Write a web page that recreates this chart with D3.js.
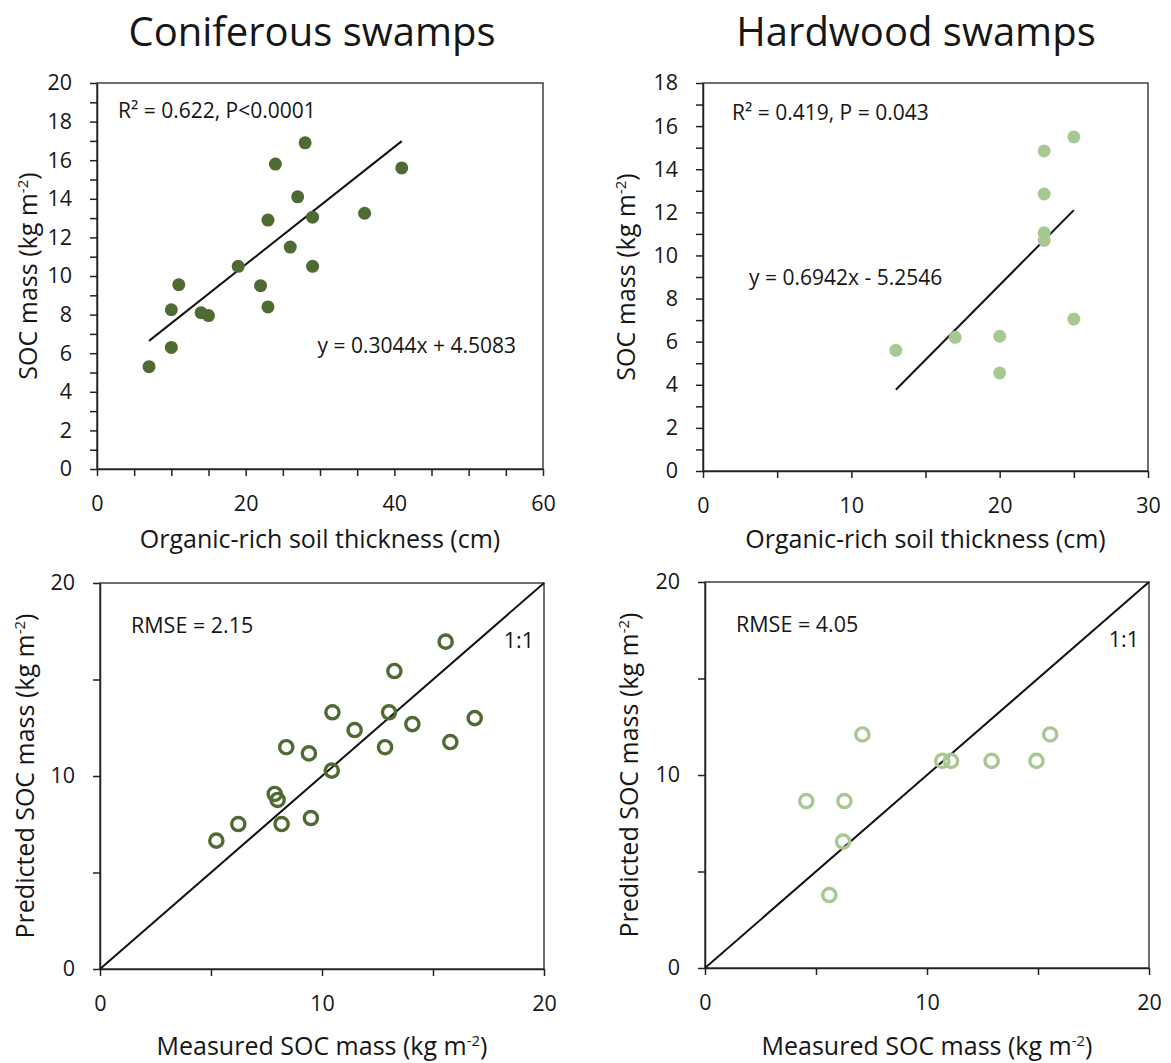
<!DOCTYPE html>
<html>
<head>
<meta charset="UTF-8">
<title>SOC mass in coniferous and hardwood swamps</title>
<script src="https://d3js.org/d3.v7.min.js"></script>
<style>
  body { margin: 0; background: #fff; }
  svg text { font-family: "Open Sans", sans-serif; fill: #161616; }
</style>
</head>
<body>
<div id="chart"></div>
<script>
// coniferous swamps: organic-rich soil thickness (cm) vs SOC mass (kg m-2)
const conThick = [7, 10, 10, 11, 14, 15, 19, 22, 23, 23, 24, 26, 27, 28, 29, 29, 36, 41];
const conSOC = [5.3, 6.3, 8.25, 9.55, 8.1, 7.95, 10.5, 9.5, 8.4, 12.9, 15.8, 11.5, 14.1, 16.9, 13.05, 10.5, 13.25, 15.6];
const conFit = { slope: 0.3044, intercept: 4.5083 };

// coniferous swamps: measured vs predicted SOC mass
const conMeasured = [5.24, 6.23, 7.87, 8.0, 8.18, 8.39, 9.41, 9.5, 10.44, 10.47, 11.47, 12.84, 13.02, 13.26, 14.07, 15.57, 15.78, 16.88];
const conPredicted = [6.65, 7.51, 9.07, 8.76, 7.51, 11.49, 11.17, 7.82, 10.28, 13.3, 12.38, 11.49, 13.3, 15.44, 12.69, 16.96, 11.76, 13.0];

// hardwood swamps
const hardThick = [13, 17, 20, 20, 23, 23, 23, 23, 25, 25];
const hardSOC = [5.6, 6.2, 6.25, 4.55, 14.85, 12.85, 11.05, 10.7, 15.5, 7.05];
const hardFit = { slope: 0.6942, intercept: -5.2546 };

const hardMeasured = [4.56, 5.6, 6.22, 6.28, 7.09, 10.69, 11.08, 12.91, 14.93, 15.55];
const hardPredicted = [8.65, 3.78, 6.55, 8.65, 12.1, 10.73, 10.73, 10.73, 10.73, 12.1];

const darkGreen = "#4e6b33";
const lightGreen = "#a8c893";

const svg = d3.select("#chart").append("svg")
  .attr("width", 1171)
  .attr("height", 1063);

function zip(a, b) { return a.map((v, i) => [v, b[i]]); }

function supLabel(sel, before, sup, after) {
  sel.append("tspan").text(before);
  sel.append("tspan").attr("dy", -9).attr("font-size", 15).text(sup);
  sel.append("tspan").attr("dy", 9).text(after);
}

function panel(p) {
  const x = d3.scaleLinear().domain(p.xDomain).range([p.left, p.right]);
  const y = d3.scaleLinear().domain(p.yDomain).range([p.bottom, p.top]);

  svg.append("rect")
    .attr("x", p.left).attr("y", p.top)
    .attr("width", p.right - p.left).attr("height", p.bottom - p.top)
    .attr("fill", "none").attr("stroke", "#333").attr("stroke-width", 1.4);

  const xAxis = d3.axisBottom(x)
    .tickValues(d3.range(p.xDomain[0], p.xDomain[1] + 0.01, p.xMinor))
    .tickFormat(d => d % p.xMajor === 0 ? d : "")
    .tickSize(7).tickSizeOuter(0).tickPadding(20);
  const yAxis = d3.axisLeft(y)
    .tickValues(d3.range(p.yDomain[0], p.yDomain[1] + 0.01, p.yMinor))
    .tickFormat(d => d % p.yMajor === 0 ? d : "")
    .tickSize(7).tickSizeOuter(0).tickPadding(18);

  const gx = svg.append("g").attr("transform", "translate(0," + p.bottom + ")").call(xAxis);
  const gy = svg.append("g").attr("transform", "translate(" + p.left + ",0)").call(yAxis);
  [gx, gy].forEach(g => {
    g.attr("font-family", "Open Sans").attr("font-size", 21.5);
    g.selectAll("path, line").attr("stroke", "#222").attr("stroke-width", 1.5);
    g.selectAll("text").attr("fill", "#161616");
  });

  // axis titles
  const xt = svg.append("text")
    .attr("x", (p.left + p.right) / 2).attr("y", p.xLabelY)
    .attr("text-anchor", "middle").attr("font-size", 25);
  if (p.xSup) supLabel(xt, p.xLabel, p.xSup, ")"); else xt.text(p.xLabel);

  const yt = svg.append("text")
    .attr("transform", "translate(" + p.yLabelX + "," + (p.top + p.bottom) / 2 + ") rotate(-90)")
    .attr("text-anchor", "middle").attr("font-size", 25);
  supLabel(yt, p.yLabel, "-2", ")");

  return { x, y };
}

// ---- top left: coniferous, thickness vs SOC
let s = panel({
  left: 97, right: 543, top: 83, bottom: 469,
  xDomain: [0, 60], xMinor: 5, xMajor: 20,
  yDomain: [0, 20], yMinor: 1, yMajor: 2,
  xLabel: "Organic-rich soil thickness (cm)", xLabelY: 548,
  yLabel: "SOC mass (kg m", yLabelX: 37
});
let ext = d3.extent(conThick);
svg.append("line")
  .attr("x1", s.x(ext[0])).attr("y1", s.y(conFit.slope * ext[0] + conFit.intercept))
  .attr("x2", s.x(ext[1])).attr("y2", s.y(conFit.slope * ext[1] + conFit.intercept))
  .attr("stroke", "#111").attr("stroke-width", 2);
svg.append("g").selectAll("circle")
  .data(zip(conThick, conSOC))
  .join("circle")
  .attr("cx", d => s.x(d[0])).attr("cy", d => s.y(d[1]))
  .attr("r", 6.5).attr("fill", darkGreen);
svg.append("text").attr("x", 118).attr("y", 118).attr("font-size", 21).text("R\u00b2 = 0.622, P<0.0001");
svg.append("text").attr("x", 516).attr("y", 353).attr("font-size", 21).attr("text-anchor", "end").text("y = 0.3044x + 4.5083");

// ---- top right: hardwood, thickness vs SOC
s = panel({
  left: 703, right: 1148, top: 83, bottom: 471,
  xDomain: [0, 30], xMinor: 5, xMajor: 10,
  yDomain: [0, 18], yMinor: 1, yMajor: 2,
  xLabel: "Organic-rich soil thickness (cm)", xLabelY: 548,
  yLabel: "SOC mass (kg m", yLabelX: 635
});
ext = d3.extent(hardThick);
svg.append("line")
  .attr("x1", s.x(ext[0])).attr("y1", s.y(hardFit.slope * ext[0] + hardFit.intercept))
  .attr("x2", s.x(ext[1])).attr("y2", s.y(hardFit.slope * ext[1] + hardFit.intercept))
  .attr("stroke", "#111").attr("stroke-width", 2);
svg.append("g").selectAll("circle")
  .data(zip(hardThick, hardSOC))
  .join("circle")
  .attr("cx", d => s.x(d[0])).attr("cy", d => s.y(d[1]))
  .attr("r", 6.5).attr("fill", lightGreen);
svg.append("text").attr("x", 732).attr("y", 120).attr("font-size", 21).text("R\u00b2 = 0.419, P = 0.043");
svg.append("text").attr("x", 749).attr("y", 285).attr("font-size", 21).text("y = 0.6942x - 5.2546");

// ---- bottom panels: measured vs predicted
const oneToOne = [0, 20];
function validation(p, meas, pred, color, rmse) {
  const sc = panel(p);
  svg.append("line")
    .attr("x1", sc.x(oneToOne[0])).attr("y1", sc.y(oneToOne[0]))
    .attr("x2", sc.x(oneToOne[1])).attr("y2", sc.y(oneToOne[1]))
    .attr("stroke", "#111").attr("stroke-width", 2);
  svg.append("g").selectAll("circle")
    .data(zip(meas, pred))
    .join("circle")
    .attr("cx", d => sc.x(d[0])).attr("cy", d => sc.y(d[1]))
    .attr("r", 6.6).attr("fill", "none")
    .attr("stroke", color).attr("stroke-width", 3.4);
  svg.append("text").attr("x", p.left + 31).attr("y", p.top + 50).attr("font-size", 21.5).text("RMSE = " + rmse);
  svg.append("text").attr("x", p.right - 10).attr("y", p.top + 65).attr("font-size", 21.5).attr("text-anchor", "end").text("1:1");
}

validation({
  left: 100, right: 544, top: 583, bottom: 969,
  xDomain: [0, 20], xMinor: 5, xMajor: 10,
  yDomain: [0, 20], yMinor: 5, yMajor: 10,
  xLabel: "Measured SOC mass (kg m", xSup: "-2", xLabelY: 1055,
  yLabel: "Predicted SOC mass (kg m", yLabelX: 34
}, conMeasured, conPredicted, darkGreen, "2.15");

validation({
  left: 705, right: 1149, top: 582, bottom: 968,
  xDomain: [0, 20], xMinor: 5, xMajor: 10,
  yDomain: [0, 20], yMinor: 5, yMajor: 10,
  xLabel: "Measured SOC mass (kg m", xSup: "-2", xLabelY: 1055,
  yLabel: "Predicted SOC mass (kg m", yLabelX: 638
}, hardMeasured, hardPredicted, lightGreen, "4.05");

// titles
svg.append("text").attr("x", 312).attr("y", 46).attr("font-size", 40).attr("text-anchor", "middle").text("Coniferous swamps");
svg.append("text").attr("x", 916).attr("y", 46).attr("font-size", 40).attr("text-anchor", "middle").text("Hardwood swamps");
</script>
</body>
</html>
